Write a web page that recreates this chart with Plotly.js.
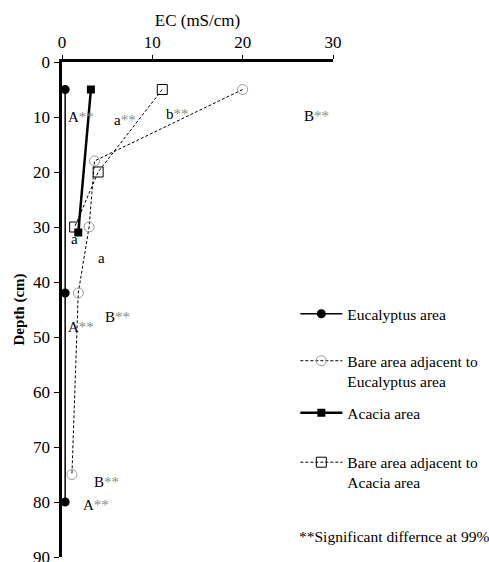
<!DOCTYPE html>
<html>
<head>
<meta charset="utf-8">
<script src="https://cdn.plot.ly/plotly-3.0.1.min.js"></script>
<style>html,body{margin:0;padding:0;background:#fff;}#chart{width:489px;height:562px;}</style>
</head>
<body>
<div id="chart"></div>
<script>
// Data (EC in mS/cm, depth in cm)
const depthEuc = [5, 42, 80];
const ecEuc = [0.35, 0.35, 0.35];
const depthBareEuc = [5, 18, 30, 42, 75];
const ecBareEuc = [20.0, 3.6, 3.0, 1.8, 1.1];
const depthAca = [5, 31];
const ecAca = [3.2, 1.8];
const depthBareAca = [5, 20, 30];
const ecBareAca = [11.1, 4.0, 1.4];

const seriesNames = [
  "Eucalyptus area",
  "Bare area adjacent to<br>Eucalyptus area",
  "Acacia area",
  "Bare area adjacent to<br>Acacia area"
];
const xTicks = [0, 10, 20, 30];
const yTicks = [0, 10, 20, 30, 40, 50, 60, 70, 80, 90];

const FONT = "'Liberation Serif', 'Times New Roman', serif";
const star = "<span style='color:#8a8a8a'>**</span>";

const traces = [
  {x: ecEuc, y: depthEuc, name: seriesNames[0], mode: "lines+markers", legend: "legend",
   line: {color: "#000", width: 1.5}, marker: {symbol: "circle", size: 9, color: "#000"}},
  {x: ecBareEuc, y: depthBareEuc, name: seriesNames[1], mode: "lines+markers", legend: "legend2",
   line: {color: "#000", width: 1, dash: "3px,2px"},
   marker: {symbol: "circle-open", size: 10, color: "#9a9a9a", line: {width: 1}}},
  {x: ecAca, y: depthAca, name: seriesNames[2], mode: "lines+markers", legend: "legend3",
   line: {color: "#000", width: 2.5}, marker: {symbol: "square", size: 8, color: "#000"}},
  {x: ecBareAca, y: depthBareAca, name: seriesNames[3], mode: "lines+markers", legend: "legend4",
   line: {color: "#000", width: 1, dash: "3px,2px"},
   marker: {symbol: "square-open", size: 10, color: "#000", line: {width: 1}}}
];

function leg(y) {
  return {x: 0.861, y: y, xanchor: "left", yanchor: "top", valign: "top",
          bgcolor: "rgba(0,0,0,0)", font: {family: FONT, size: 15.5, color: "#000"},
          itemwidth: 42, tracegroupgap: 0};
}

const ann = [
  {x: 0.45, y: 10, t: "A" + star},
  {x: 5.5, y: 10.5, t: "a" + star},
  {x: 11.3, y: 9.5, t: "b" + star},
  {x: 26.6, y: 9.8, t: "B" + star},
  {x: 0.8, y: 32.1, t: "a"},
  {x: 3.8, y: 35.7, t: "a"},
  {x: 4.5, y: 46.3, t: "B" + star},
  {x: 0.45, y: 48.1, t: "A" + star},
  {x: 3.3, y: 76.3, t: "B" + star},
  {x: 2.1, y: 80.5, t: "A" + star}
].map(a => ({x: a.x, y: a.y, xref: "x", yref: "y", text: a.t, showarrow: false,
  xanchor: "left", yanchor: "middle", font: {family: FONT, size: 15, color: "#000"}}));

ann.push({x: 0.866, y: 0.042, xref: "paper", yref: "paper", xanchor: "left", yanchor: "middle",
  showarrow: false, text: "**Significant differnce at 99%",
  font: {family: FONT, size: 15.5, color: "#000"}});

const layout = {
  width: 489, height: 562,
  margin: {l: 62, r: 156, t: 62, b: 5, pad: 0},
  paper_bgcolor: "#fff", plot_bgcolor: "#fff",
  font: {family: FONT, size: 17, color: "#000"},
  xaxis: {side: "top", range: [0, 30], tickvals: xTicks, showline: true, linewidth: 3.5,
          linecolor: "#000", ticks: "outside", ticklen: 4, tickwidth: 1, tickcolor: "#000",
          showgrid: false, zeroline: false, ticklabeloverflow: "allow",
          title: {text: "EC (mS/cm)", font: {family: FONT, size: 17}, standoff: 3}},
  yaxis: {range: [90, 0], tickvals: yTicks, showline: true, linewidth: 3.5, linecolor: "#000",
          ticks: "outside", ticklen: 5, tickwidth: 1, tickcolor: "#000",
          showgrid: false, zeroline: false, ticklabeloverflow: "allow",
          title: {text: "<b>Depth (cm)</b>", font: {family: FONT, size: 15}, standoff: 6}},
  showlegend: true,
  legend: leg(0.525),
  legend2: leg(0.43),
  legend3: leg(0.325),
  legend4: leg(0.225),
  annotations: ann
};

Plotly.newPlot("chart", traces, layout, {displayModeBar: false, staticPlot: true});
</script>
</body>
</html>
